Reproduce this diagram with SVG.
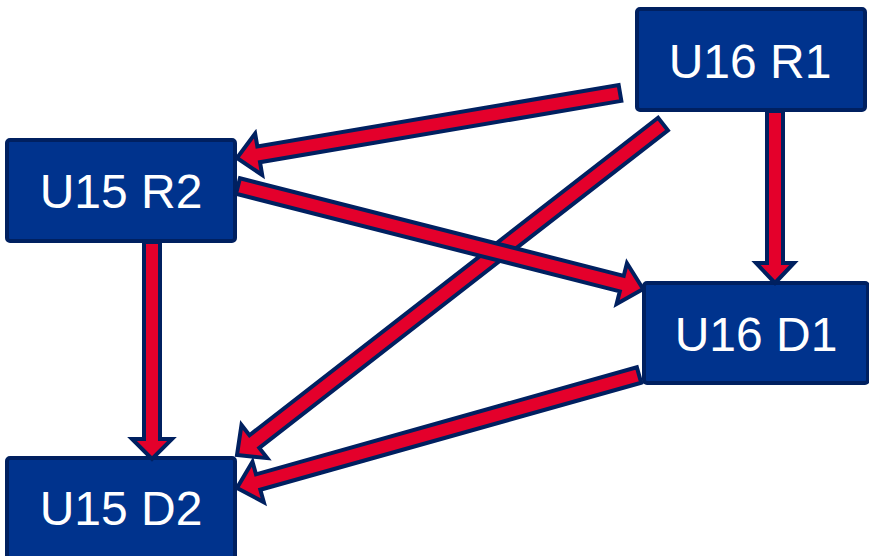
<svg xmlns="http://www.w3.org/2000/svg" width="869" height="556" viewBox="0 0 869 556">
<defs>
<style>
.box{fill:#00338D;stroke:#002060;stroke-width:4}
.lbl{fill:#ffffff;font-family:"Liberation Sans",Arial,sans-serif;font-size:48px;text-anchor:middle}
.arr{fill:#E4002B;stroke:#002060;stroke-width:4;stroke-linejoin:miter;stroke-miterlimit:10}
</style>
</defs>
<rect width="869" height="556" fill="#ffffff"/>
<g id="U16R1"><rect class="box" x="637" y="9" width="228" height="101" rx="3"/><text class="lbl" x="750" y="78">U16 R1</text></g>
<g id="U15R2"><rect class="box" x="7" y="140" width="228" height="101" rx="3"/><text class="lbl" x="121" y="208">U15 R2</text></g>
<g id="U16D1"><rect class="box" x="644" y="283" width="224" height="100" rx="3"/><text class="lbl" x="756" y="351">U16 D1</text></g>
<g id="U15D2"><rect class="box" x="7" y="458" width="228" height="101" rx="3"/><text class="lbl" x="121" y="525">U15 D2</text></g>
<g id="connectors">
<g transform="translate(620,93) rotate(170.37)"><polygon class="arr" points="0,-8 366.5,-8 366.5,-21 388.5,0 366.5,21 366.5,8 0,8"/></g>
<g transform="translate(663,124) rotate(142.15)"><polygon class="arr" points="0,-8 517.5,-8 517.5,-21 539.5,0 517.5,21 517.5,8 0,8"/></g>
<g transform="translate(775,111) rotate(90)"><polygon class="arr" points="0,-8 152,-8 152,-19 172,0 152,19 152,8 0,8"/></g>
<g transform="translate(238,186) rotate(14.27)"><polygon class="arr" points="0,-8 396,-8 396,-21 418,0 396,21 396,8 0,8"/></g>
<g transform="translate(152,242) rotate(90)"><polygon class="arr" points="0,-8 197,-8 197,-20 217,0 197,20 197,8 0,8"/></g>
<g transform="translate(639,375) rotate(164.30)"><polygon class="arr" points="0,-8 395.6,-8 395.6,-21 417.6,0 395.6,21 395.6,8 0,8"/></g>
</g>
</svg>
